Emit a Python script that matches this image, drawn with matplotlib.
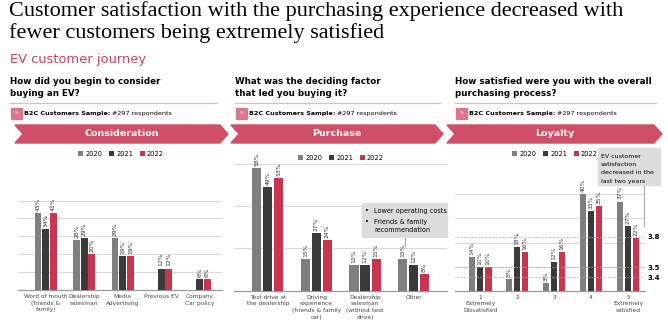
"""
EV customer journey: consideration, purchase and loyalty survey results
"""

import matplotlib.pyplot as plt
import numpy as np
from matplotlib.patches import Polygon, Rectangle

W, H = 668, 328

years = ["2020", "2021", "2022"]
colors = ["#7f7f7f", "#3a3a3a", "#c9344e"]
pink = "#cf4f66"

# Consideration
cons_labels = ["Word of mouth\n(friends &\nfamily)", "Dealership\nsalesman",
               "Media\nAdvertising", "Previous EV", "Company\nCar policy"]
cons_2020 = [43, 28, 29, np.nan, np.nan]
cons_2021 = [34, 29, 19, 12, 6]
cons_2022 = [43, 20, 19, 12, 6]

# Purchase
purch_labels = ["Test drive at\nthe dealership", "Driving\nexperience\n(friends & family\ncar)",
                "Dealership\nsalesman\n(without test\ndrive)", "Other"]
purch_2020 = [58, 15, 12, 15]
purch_2021 = [49, 27, 12, 12]
purch_2022 = [53, 24, 15, 8]

# Loyalty
loy_labels = ["1\nExtremely\nDissatisfied", "2", "3", "4", "5\nExtremely\nsatisfied"]
loy_2020 = [14, 5, 3, 40, 37]
loy_2021 = [10, 18, 12, 33, 27]
loy_2022 = [10, 16, 16, 35, 22]
loy_means = [3.8, 3.5, 3.4]


def P(x, y):
    return x / W, 1 - y / H


def add_axes(fig, left, right, top, bottom):
    return fig.add_axes([left / W, 1 - bottom / H, (right - left) / W, (bottom - top) / H])


def bar_chart(ax, labels, series, width, offset, ymax, grid, xlim, legend_xy):
    x = np.arange(len(labels))
    bars = []
    for i, (vals, color) in enumerate(zip(series, colors)):
        pos = x + (i - 1) * offset
        b = ax.bar(pos, np.nan_to_num(vals), width, color=color, label=years[i], zorder=3)
        bars.append(b)
        for p, v in zip(pos, vals):
            if np.isnan(v):
                continue
            ax.annotate(f"{v:.0f}%", (p, v), xytext=(0, 1.5), textcoords="offset points",
                        rotation=90, ha="center", va="bottom", fontsize=4.3, color="#333333")
    ax.set_ylim(0, ymax)
    ax.set_xlim(*xlim)
    ax.set_yticks(grid)
    ax.yaxis.grid(True, color="#d9d9d9", lw=0.8, zorder=0)
    ax.tick_params(axis="y", length=0, labelleft=False)
    ax.set_xticks(x)
    ax.set_xticklabels(labels, fontsize=4.2, color="#444444", linespacing=1.4)
    ax.tick_params(axis="x", length=0, pad=3)
    for s in ["top", "right", "left"]:
        ax.spines[s].set_visible(False)
    ax.spines["bottom"].set_color("#9a9a9a")
    ax.spines["bottom"].set_linewidth(0.9)
    ax.legend(handles=bars, loc="center", bbox_to_anchor=P(*legend_xy),
              bbox_transform=ax.figure.transFigure, ncol=3, frameon=False,
              fontsize=4.8, handlelength=0.75, handleheight=0.75,
              columnspacing=1.0, handletextpad=0.3)


fig = plt.figure(figsize=(W / 100, H / 100), dpi=100)
renderer = fig.canvas.get_renderer()

# header
fig.text(*P(9, 11), "Customer satisfaction with the purchasing experience decreased with",
         family="Liberation Serif", fontsize=16, va="center")
fig.text(*P(9, 33), "fewer customers being extremely satisfied",
         family="Liberation Serif", fontsize=16, va="center")
fig.text(*P(10, 60), "EV customer journey", fontsize=9.4, color="#c8435a", va="center")

questions = [("How did you begin to consider", "buying an EV?"),
             ("What was the deciding factor", "that led you buying it?"),
             ("How satisfied were you with the overall", "purchasing process?")]
cols = [(10, 217), (235, 440), (455, 656)]
chevrons = [(15, 228, "Consideration"), (231, 443, "Purchase"), (447, 662, "Loyalty")]

for (q1, q2), (x0, x1), (c0, c1, name) in zip(questions, cols, chevrons):
    fig.text(*P(x0, 82), q1, fontsize=6.3, weight="bold", va="center")
    fig.text(*P(x0, 93.5), q2, fontsize=6.3, weight="bold", va="center")
    fig.add_artist(plt.Line2D([x0 / W, x1 / W], [1 - 103 / H] * 2, color="#e9b7c1", lw=0.9))
    fig.add_artist(Rectangle(P(x0 + 1, 119), 11 / W, 11 / H, color="#d9788b",
                             transform=fig.transFigure))
    fig.text(*P(x0 + 6.5, 113.5), "%", fontsize=3, color="white", ha="center", va="center")
    t = fig.text(*P(x0 + 14, 114), "B2C Customers Sample:", fontsize=4.6, weight="bold",
                 va="center")
    bb = t.get_window_extent(renderer)
    fig.text(bb.x1 / W + 2 / W, 1 - 114 / H, "#297 respondents", fontsize=4.6, va="center")
    d = 8
    pts = [P(c0, 125), P(c1 - d, 125), P(c1, 134), P(c1 - d, 143), P(c0, 143), P(c0 + d, 134)]
    fig.add_artist(Polygon(pts, closed=True, color=pink, transform=fig.transFigure))
    fig.text(*P((c0 + c1) / 2, 134), name, fontsize=6.8, weight="bold", color="white",
             ha="center", va="center")

# Consideration chart
ax1 = add_axes(fig, 18, 222, 160, 290)
bar_chart(ax1, cons_labels, [cons_2020, cons_2021, cons_2022], 0.18, 0.2,
          130 / 1.79, [10, 20, 30, 40, 50], (-0.72, 4.58), (121, 154))

# Purchase chart
ax2 = add_axes(fig, 234, 447, 150, 290.7)
bar_chart(ax2, purch_labels, [purch_2020, purch_2021, purch_2022], 0.186, 0.227,
          140.7 / 2.12, [20, 40, 60], (-0.7, 3.69), (341, 158))
fig.add_artist(Rectangle(P(362, 237), 85 / W, 34 / H, color="#dcdcdc",
                         transform=fig.transFigure, zorder=5))
fig.add_artist(plt.Line2D([405 / W] * 2, [1 - 237 / H, 1 - 246 / H], color="#aaaaaa", lw=0.8))
for y, t in [(211, "Lower operating costs"), (222, "Friends & family")]:
    fig.text(*P(367, y), "\u2022", fontsize=4.8, va="center", ha="center", zorder=6)
    fig.text(*P(374, y), t, fontsize=4.7, va="center", zorder=6)
fig.text(*P(374, 230.5), "recommendation", fontsize=4.7, va="center", zorder=6)

# Loyalty chart
ax3 = add_axes(fig, 455, 645, 160, 290.7)
bar_chart(ax3, loy_labels, [loy_2020, loy_2021, loy_2022], 0.175, 0.22,
          130.7 / 2.41, [10, 20, 30, 40], (-0.68, 4.46), (555, 154))
ax3b = ax3.twinx()
ax3b.set_ylim(3.4 - 13.4 / 101.5, 3.4 + 117.3 / 101.5)
for m in loy_means:
    ax3b.axhline(m, color="#aaaaaa", lw=0.8, ls=(0, (1, 1.5)), zorder=1)
ax3b.set_yticks(loy_means)
ax3b.set_yticklabels([f"{m:.1f}" for m in loy_means], fontsize=5, weight="bold")
ax3b.tick_params(axis="y", length=0, pad=2)
for s in ax3b.spines.values():
    s.set_visible(False)
fig.add_artist(Rectangle(P(598, 185), 62 / W, 37 / H, color="#dcdcdc",
                         transform=fig.transFigure, zorder=5))
fig.add_artist(plt.Line2D([644 / W] * 2, [1 - 185 / H, 1 - 226 / H], color="#aaaaaa", lw=0.8))
for y, t in zip([156, 164.5, 173, 181.5],
                ["EV customer", "satisfaction", "decreased in the", "last two years"]):
    fig.text(*P(601, y), t, fontsize=4.5, va="center", zorder=6)

fig.savefig("out.png", dpi=100)
